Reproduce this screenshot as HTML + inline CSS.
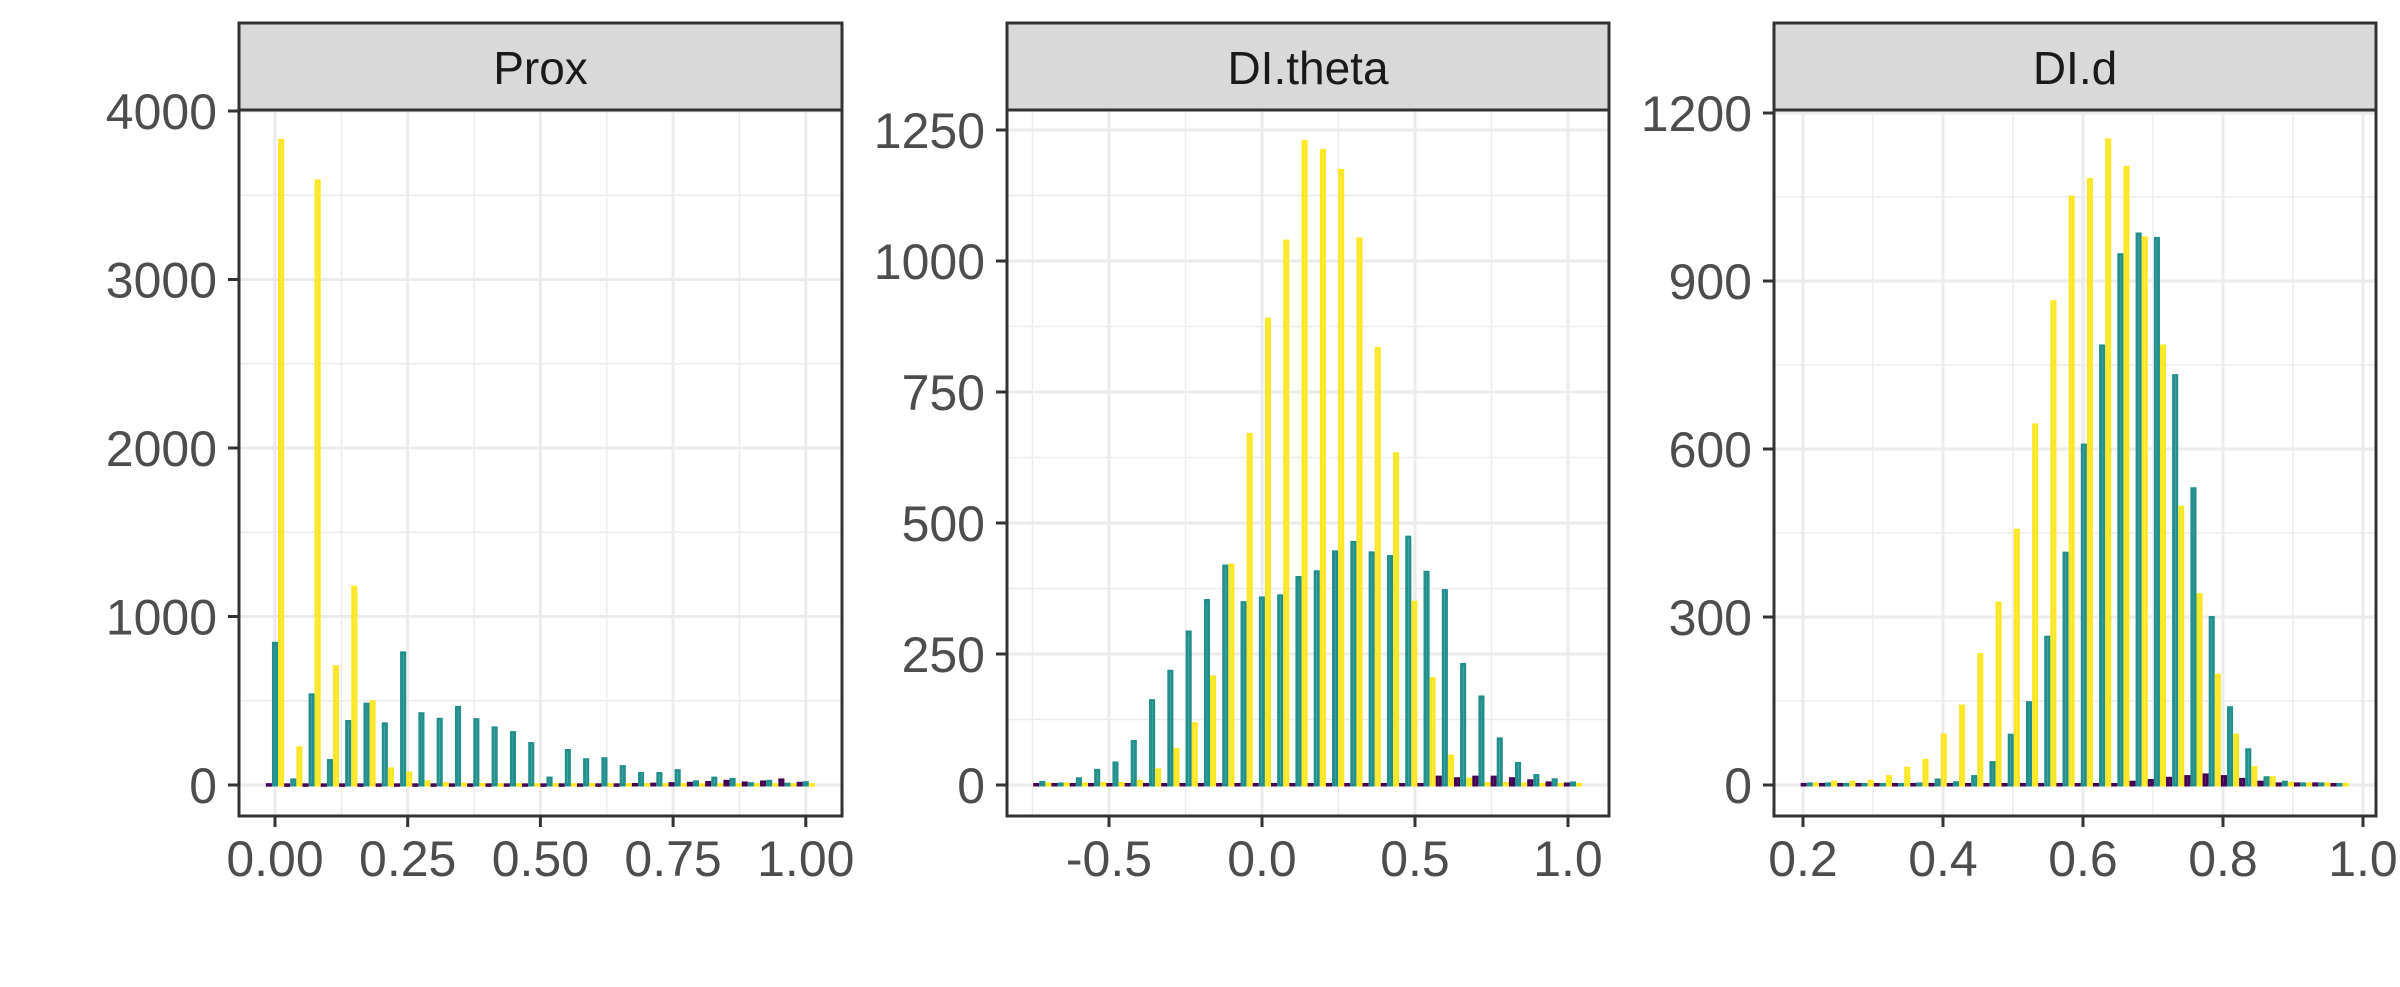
<!DOCTYPE html>
<html><head><meta charset="utf-8"><style>
html,body{margin:0;padding:0;background:#fff;}
svg{display:block;font-family:"Liberation Sans",sans-serif;}
</style></head><body>
<svg id="chart" width="2400" height="987" viewBox="0 0 2400 987" xmlns="http://www.w3.org/2000/svg"></svg>
<script>
// ---------- data ----------
const facetTitles = ["Prox", "DI.theta", "DI.d"];
const proxPurple = [2,1,1,1,1,1,1,1,1,1,1,1,1,1,1,1,1,1,1,1,3,5,8,10,15,22,12,18,30,10];
const proxTeal = [841,30,535,145,377,480,363,784,423,390,461,388,339,311,246,41,205,150,156,109,68,68,85,19,41,33,8,22,5,14];
const proxYellow = [3825,221,3585,702,1174,494,96,71,19,8,5,3,2,2,2,2,2,2,2,2,2,2,2,2,2,2,2,2,2,2];
const thetaPurple = [1,1,1,1,1,1,1,1,1,1,1,1,1,1,1,1,1,1,1,1,1,1,15,12,15,15,12,8,4,2];
const thetaTeal = [5,2,12,28,42,83,161,217,292,352,418,348,357,361,396,407,445,463,443,436,473,406,371,230,168,88,41,18,10,4];
const thetaYellow = [2,2,2,3,3,7,29,68,117,206,420,669,889,1038,1228,1211,1173,1042,833,632,349,203,55,11,3,3,2,1,1,1];
const dPurple = [1,1,1,1,1,1,1,1,1,1,1,1,1,1,1,1,1,1,5,8,12,15,18,15,10,5,2,2,2,1];
const dTeal = [2,2,1,1,1,1,2,9,4,15,40,89,147,264,414,607,784,947,984,976,731,529,299,138,63,13,5,2,2,1];
const dYellow = [2,5,5,7,15,30,44,89,141,233,325,455,643,863,1050,1081,1152,1103,977,784,496,340,196,89,31,13,3,2,2,1];
const proxXTicks = [0, 0.25, 0.5, 0.75, 1.0];
const proxXLabels = ["0.00","0.25","0.50","0.75","1.00"];
const proxYTicks = [0,1000,2000,3000,4000];
const thetaXTicks = [-0.5, 0, 0.5, 1.0];
const thetaXLabels = ["-0.5","0.0","0.5","1.0"];
const thetaYTicks = [0,250,500,750,1000,1250];
const dXTicks = [0.2,0.4,0.6,0.8,1.0];
const dXLabels = ["0.2","0.4","0.6","0.8","1.0"];
const dYTicks = [0,300,600,900,1200];

const NS = "http://www.w3.org/2000/svg";
const svg = document.getElementById("chart");
function mk(tag, attrs, parent){const e=document.createElementNS(NS,tag);for(const k in attrs)e.setAttribute(k,attrs[k]);(parent||svg).appendChild(e);return e;}

const panels = [
 {title:facetTitles[0], left:239, right:842, x0v:0, x0p:275, pxPerUnit:530.8, yPer:0.1685,
  binStart:0, binW:1/29, purple:proxPurple, teal:proxTeal, yellow:proxYellow,
  xt:proxXTicks, xl:proxXLabels, yt:proxYTicks, xMinor:[0.125,0.375,0.625,0.875], yMinorStep:500, key:"prox"},
 {title:facetTitles[1], left:1007, right:1609, x0v:0, x0p:1262, pxPerUnit:306, yPer:0.524,
  binStart:-0.718, binW:0.0598, purple:thetaPurple, teal:thetaTeal, yellow:thetaYellow,
  xt:thetaXTicks, xl:thetaXLabels, yt:thetaYTicks, xMinor:[-0.75,-0.25,0.25,0.75], yMinorStep:125, key:"di-theta"},
 {title:facetTitles[2], left:1774, right:2376, x0v:0.2, x0p:1803, pxPerUnit:700, yPer:0.56,
  binStart:0.2097, binW:0.0261, purple:dPurple, teal:dTeal, yellow:dYellow,
  xt:dXTicks, xl:dXLabels, yt:dYTicks, xMinor:[0.3,0.5,0.7,0.9], yMinorStep:150, key:"di-d"}
];
const TOP=110, BOT=816, ZERO=785, STRIPTOP=23;

panels.forEach(p=>{
  const g = mk("g",{});
  
  
  const X = v => p.x0p + (v - p.x0v)*p.pxPerUnit;
  const Y = c => ZERO - c*p.yPer;
  mk("rect",{x:p.left,y:TOP,width:p.right-p.left,height:BOT-TOP,fill:"#fff"},g);
  // minor grid
  const maxY = p.yt[p.yt.length-1];
  for(let v=p.yMinorStep; v<maxY; v+=2*p.yMinorStep){
    const l=mk("line",{x1:p.left,x2:p.right,y1:Y(v),y2:Y(v),stroke:"#ebebeb","stroke-width":1.5},g);
    
    
  }
  p.xMinor.forEach(v=>{
    const l=mk("line",{x1:X(v),x2:X(v),y1:TOP,y2:BOT,stroke:"#ebebeb","stroke-width":1.5},g);
    
    
  });
  p.yt.forEach(v=>{
    const l=mk("line",{x1:p.left,x2:p.right,y1:Y(v),y2:Y(v),stroke:"#ebebeb","stroke-width":3},g);
    
    
  });
  p.xt.forEach(v=>{
    const l=mk("line",{x1:X(v),x2:X(v),y1:TOP,y2:BOT,stroke:"#ebebeb","stroke-width":3},g);
    
    
  });
  // bars
  const sw = p.binW*p.pxPerUnit/3;
  const series=[["purple","#440154",p.purple],["teal","#21908C",p.teal],["yellow","#FDE725",p.yellow]];
  for(let i=0;i<p.teal.length;i++){
    const c = p.binStart + i*p.binW;
    const left = X(c) - p.binW*p.pxPerUnit/2;
    series.forEach((s,k)=>{
      const val=s[2][i];
      const h=Math.max(ZERO-Y(val),0.5);
      const r=mk("rect",{x:left+k*sw+1.5,y:Y(val),width:Math.max(sw-3,0.5),height:h,fill:"#fff",stroke:s[1],"stroke-width":3},g);
      
      
    });
  }
  // border
  const b=mk("rect",{x:p.left,y:TOP,width:p.right-p.left,height:BOT-TOP,fill:"none",stroke:"#333","stroke-width":3},g);
  
  
  // strip
  const st=mk("rect",{x:p.left,y:STRIPTOP,width:p.right-p.left,height:TOP-STRIPTOP,fill:"#d9d9d9",stroke:"#333","stroke-width":3},g);
  
  
  const tt=mk("text",{x:(p.left+p.right)/2,y:84,"text-anchor":"middle","font-size":46,fill:"#1a1a1a"},g);
  tt.textContent=p.title;
  
  
  // y ticks
  p.yt.forEach(v=>{
    const tk=mk("line",{x1:p.left-11,x2:p.left,y1:Y(v),y2:Y(v),stroke:"#333","stroke-width":3},g);
    
    
    const t=mk("text",{x:p.left-22,y:Y(v)+18,"text-anchor":"end","font-size":50,fill:"#4d4d4d"},g);
    t.textContent=String(v);
    
    
  });
  // x ticks
  p.xt.forEach((v,i)=>{
    const tk=mk("line",{x1:X(v),x2:X(v),y1:BOT,y2:BOT+11,stroke:"#333","stroke-width":3},g);
    
    
    const t=mk("text",{x:X(v),y:876,"text-anchor":"middle","font-size":50,fill:"#4d4d4d"},g);
    t.textContent=p.xl[i];
    
    
  });
});
</script>
</body></html>
